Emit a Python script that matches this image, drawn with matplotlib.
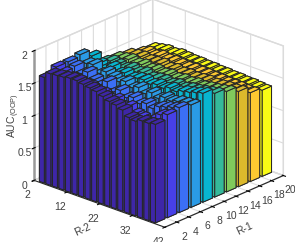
#!/usr/bin/env python3

"""
AUC over R-1 and R-2 as 3D bars
"""
import matplotlib
matplotlib.use('Agg')
import matplotlib.pyplot as plt

plt.rcParams['font.family'] = ['Liberation Sans', 'DejaVu Sans']
plt.rcParams['mathtext.fontset'] = 'custom'
plt.rcParams['mathtext.rm'] = 'Liberation Sans'

r1_ticks = [2, 4, 6, 8, 10, 12, 14, 16, 18, 20]
r2_ticks = [2, 12, 22, 32, 42]
z_ticks = [0, 0.5, 1, 1.5, 2]
z_labels = ['0', '0.5', '1', '1.5', '2']

r1_centers = [1, 3, 5, 7, 9, 11, 13, 15, 17, 19]
r2_centers = [4, 6, 8, 10, 12, 14, 16, 18, 20, 22, 24, 26, 28, 30, 32, 34, 36, 38]

col_colors = ['#3e26a8', '#4740e8', '#3b6ff5', '#2a9ae6', '#08b5d0',
              '#35b99a', '#80ca5c', '#dcb92c', '#fdc931', '#f9fb15']

# rows go back to front (R-2), columns go along R-1
auc = [
    [1.63, 1.71, 1.71, 1.74, 1.64, 1.48, 1.46, 1.43, 1.38, 1.36],
    [1.72, 1.66, 1.68, 1.64, 1.56, 1.52, 1.48, 1.45, 1.42, 1.38],
    [1.73, 1.62, 1.60, 1.66, 1.52, 1.50, 1.50, 1.46, 1.40, 1.40],
    [1.74, 1.60, 1.66, 1.56, 1.58, 1.48, 1.47, 1.44, 1.43, 1.39],
    [1.76, 1.56, 1.58, 1.62, 1.52, 1.52, 1.49, 1.45, 1.41, 1.41],
    [1.76, 1.60, 1.54, 1.58, 1.56, 1.49, 1.46, 1.46, 1.42, 1.40],
    [1.74, 1.52, 1.62, 1.54, 1.52, 1.52, 1.48, 1.43, 1.41, 1.39],
    [1.72, 1.56, 1.50, 1.58, 1.55, 1.48, 1.46, 1.45, 1.40, 1.39],
    [1.70, 1.50, 1.56, 1.52, 1.56, 1.50, 1.48, 1.43, 1.41, 1.38],
    [1.66, 1.54, 1.48, 1.56, 1.53, 1.51, 1.46, 1.44, 1.40, 1.38],
    [1.62, 1.46, 1.52, 1.50, 1.56, 1.49, 1.48, 1.43, 1.40, 1.37],
    [1.60, 1.50, 1.46, 1.55, 1.54, 1.52, 1.47, 1.44, 1.39, 1.37],
    [1.56, 1.42, 1.50, 1.50, 1.58, 1.50, 1.49, 1.45, 1.39, 1.36],
    [1.48, 1.40, 1.46, 1.55, 1.56, 1.53, 1.48, 1.44, 1.38, 1.36],
    [1.46, 1.36, 1.52, 1.53, 1.60, 1.54, 1.50, 1.45, 1.38, 1.35],
    [1.50, 1.46, 1.55, 1.56, 1.62, 1.56, 1.51, 1.46, 1.38, 1.35],
    [1.50, 1.55, 1.58, 1.57, 1.65, 1.58, 1.53, 1.46, 1.37, 1.34],
    [1.52, 1.59, 1.62, 1.58, 1.68, 1.60, 1.55, 1.47, 1.37, 1.33],
]

fig = plt.figure(figsize=(2.95, 2.42), dpi=100)
ax = fig.add_axes([0.027, 0.019, 1.0, 1.0], projection='3d', proj_type='ortho')
ax.view_init(elev=23.3, azim=-137.8)
ax.set_box_aspect((1.0, 1.0, 0.8), zoom=1.15)
ax.computed_zorder = False

# bars painted back to front by hand, sorting one big collection breaks up
order = 10
for i, y in enumerate(r2_centers):
    for j in range(len(r1_centers) - 1, -1, -1):
        ax.bar3d(r1_centers[j] - 0.8, y - 0.75, 0, 1.6, 1.5, auc[i][j],
                 color=col_colors[j], edgecolor='#262626', linewidth=0.7,
                 shade=False, zorder=order)
        order += 1

ax.set_xlim(0, 20)
ax.set_ylim(42, 2)
ax.set_zlim(0, 2)
ax.set_xticks(r1_ticks)
ax.set_yticks(r2_ticks)
ax.set_zticks(z_ticks)
ax.set_zticklabels(z_labels)
ax.tick_params(labelsize=7.5, labelcolor='#404040', pad=-3)
ax.tick_params(axis='z', pad=-4.5)
ax.set_xlabel('R-1', fontsize=7.5, color='#404040', labelpad=-7, rotation=25)
ax.set_ylabel('R-2', fontsize=7.5, color='#404040', labelpad=-8, rotation=25)
ax.set_zlabel('AUC$_{\\mathrm{(OOP)}}$', fontsize=7.5, color='#404040', labelpad=-13.5)

for axis in (ax.xaxis, ax.yaxis, ax.zaxis):
    axis.set_pane_color((1, 1, 1, 1))
    axis.pane.set_edgecolor('#d8d8d8')
    axis._axinfo['grid']['color'] = '#dcdcdc'
    axis._axinfo['grid']['linewidth'] = 0.8
ax.zaxis.line.set_color('#999999')
ax.zaxis.line.set_linewidth(1.8)
ax.xaxis.line.set_color('#262626')
ax.yaxis.line.set_color('#262626')

plt.savefig('out.png', dpi=100)
